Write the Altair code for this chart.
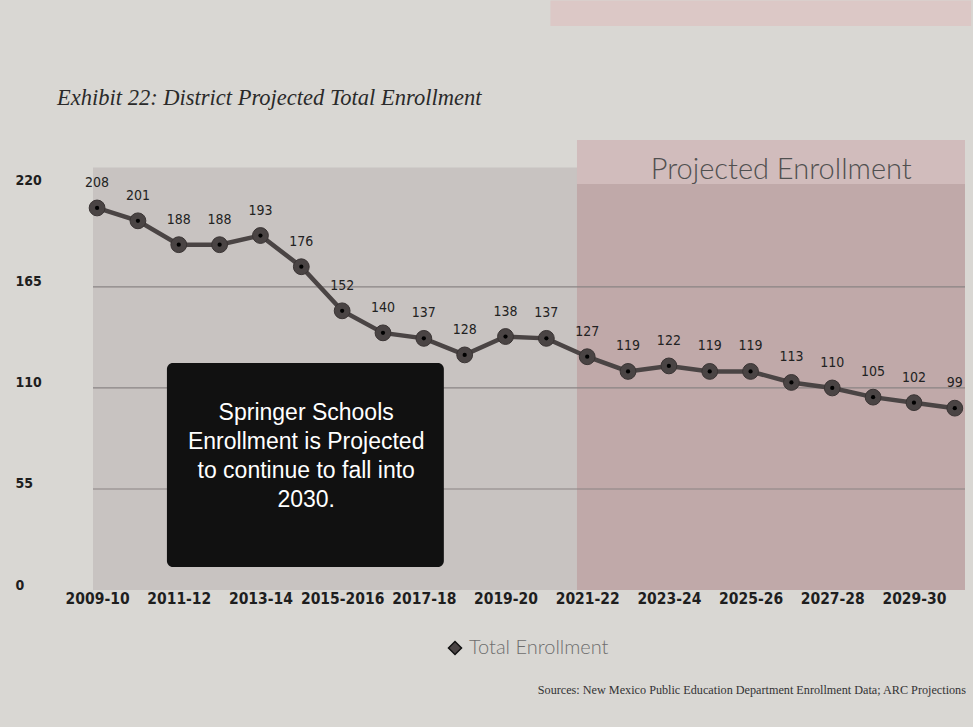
import altair as alt
import pandas as pd

years = ["2009-10", "2010-11", "2011-12", "2012-13", "2013-14", "2014-15", "2015-2016",
         "2016-17", "2017-18", "2018-19", "2019-20", "2020-21", "2021-22", "2022-23",
         "2023-24", "2024-25", "2025-26", "2026-27", "2027-28", "2028-29", "2029-30", "2030-31"]
enrollment = [208, 201, 188, 188, 193, 176, 152, 140, 137, 128, 138, 137, 127, 119,
              122, 119, 119, 113, 110, 105, 102, 99]
y_ticks = [0, 55, 110, 165, 220]
grid_values = [55, 110, 165]
title_text = "Exhibit 22: District Projected Total Enrollment"
note_text = "Springer Schools\nEnrollment is Projected\nto continue to fall into\n2030."
projected_label = "Projected Enrollment"
source_text = "Sources: New Mexico Public Education Department Enrollment Data; ARC Projections"
series_name = "Total Enrollment"

df = pd.DataFrame({"i": list(range(len(years))), "year": years, "value": enrollment,
                   "series": series_name})

label_map = "{" + ",".join(f"'{i}':'{y}'" for i, y in enumerate(years)) + "}"
x_scale = alt.Scale(domain=[-0.1, 21.25], nice=False, zero=False)
y_scale = alt.Scale(domain=[0, 245], nice=False)

X = alt.X("i:Q", scale=x_scale, title=None,
          axis=alt.Axis(values=list(range(0, len(years), 2)), labelExpr=f"{label_map}[datum.value+'']",
                        grid=False, domain=False, ticks=False, labelPadding=1, labelOverlap=False,
                        labelFont="DejaVu Sans Condensed", labelFontWeight="bold",
                        labelFontSize=15.5, labelColor="#1e1e1e"))
Y = alt.Y("value:Q", scale=y_scale, title=None,
          axis=alt.Axis(values=y_ticks, grid=False, domain=False, ticks=False,
                        labelAlign="left", labelPadding=78, labelOffset=-5,
                        labelFont="DejaVu Sans Condensed", labelFontWeight="bold",
                        labelFontSize=14, labelColor="#1e1e1e"))

regions = pd.DataFrame({
    "x0": [-0.1, 11.75, 11.75, 11.1],
    "x1": [11.75, 21.25, 21.25, 21.4],
    "y0": [0, 0, 221, 307],
    "y1": [230, 221, 245, 321],
    "c": ["#c8c3c1", "#c0a9a9", "#d1bcbc", "#dcc8c6"],
})
bg = alt.Chart(regions).mark_rect().encode(
    x=alt.X("x0:Q", scale=x_scale), x2="x1:Q",
    y=alt.Y("y0:Q", scale=y_scale), y2="y1:Q",
    color=alt.Color("c:N", scale=None))

grid = alt.Chart(pd.DataFrame({"g": grid_values})).mark_rule(color="#8a8484", strokeWidth=1.2).encode(
    y=alt.Y("g:Q", scale=y_scale), x=alt.value(0), x2=alt.value("width"))

box = alt.Chart(pd.DataFrame({"x0": [1.71], "x1": [8.49], "y0": [12.5], "y1": [123.6]})).mark_rect(
    color="#111111", cornerRadius=6).encode(
    x=alt.X("x0:Q", scale=x_scale), x2="x1:Q",
    y=alt.Y("y0:Q", scale=y_scale), y2="y1:Q")

note = alt.Chart(pd.DataFrame({"x": [5.12], "y": [96.5], "t": [note_text]})).mark_text(
    color="white", font="Liberation Sans", fontSize=23, lineBreak="\n", lineHeight=29,
    baseline="middle", align="center").encode(
    x=alt.X("x:Q", scale=x_scale), y=alt.Y("y:Q", scale=y_scale), text="t:N")

proj = alt.Chart(pd.DataFrame({"x": [16.75], "y": [228.5], "t": [projected_label]})).mark_text(
    color="#505050", font="Lato", fontWeight=300, fontSize=29, baseline="middle").encode(
    x=alt.X("x:Q", scale=x_scale), y=alt.Y("y:Q", scale=y_scale), text="t:N")

title = alt.Chart(pd.DataFrame({"x": [-0.98], "y": [267.8], "t": [title_text]})).mark_text(
    align="left", baseline="middle", font="Liberation Serif", fontStyle="italic",
    fontSize=22.5, color="#2a2a2a").encode(
    x=alt.X("x:Q", scale=x_scale), y=alt.Y("y:Q", scale=y_scale), text="t:N")

line = alt.Chart(df).mark_line(color="#4a4444", strokeWidth=4.5).encode(x=X, y=Y)

pts = alt.Chart(df).mark_point(filled=True, size=250, shape="circle", opacity=1,
                               stroke="#3a3434", strokeWidth=1).encode(
    x=X, y=Y,
    color=alt.Color("series:N", scale=alt.Scale(range=["#4a4444"]),
                    legend=alt.Legend(orient="none", legendX=352, legendY=498, title=None,
                                      symbolType="diamond", symbolSize=170,
                                      symbolFillColor="#111", symbolStrokeColor="#111",
                                      labelFont="Lato", labelFontWeight=300,
                                      labelFontSize=20, labelColor="#6e6e6e")))
dots = alt.Chart(df).mark_point(filled=True, size=18, color="#000", opacity=1).encode(x=X, y=Y)

labels = alt.Chart(df).mark_text(dy=-25, font="DejaVu Sans Condensed", fontSize=14,
                                 color="#222").encode(x=X, y=Y, text="value:Q")

source = alt.Chart(pd.DataFrame({"x": [10.79], "y": [-54.5], "t": [source_text]})).mark_text(
    align="left", baseline="middle", font="Liberation Serif", fontSize=12.2, color="#333").encode(
    x=alt.X("x:Q", scale=x_scale), y=alt.Y("y:Q", scale=y_scale), text="t:N")

chart = alt.layer(bg, grid, box, note, proj, title, line, pts, dots, labels, source).properties(
    width=872, height=450,
    autosize=alt.AutoSizeParams(type="none"),
    padding={"left": 93, "top": 140, "right": 8, "bottom": 137},
    background="#d9d7d3",
).configure_view(stroke=None)

chart.save("out.html", embed_options={"renderer": "svg", "actions": False})
